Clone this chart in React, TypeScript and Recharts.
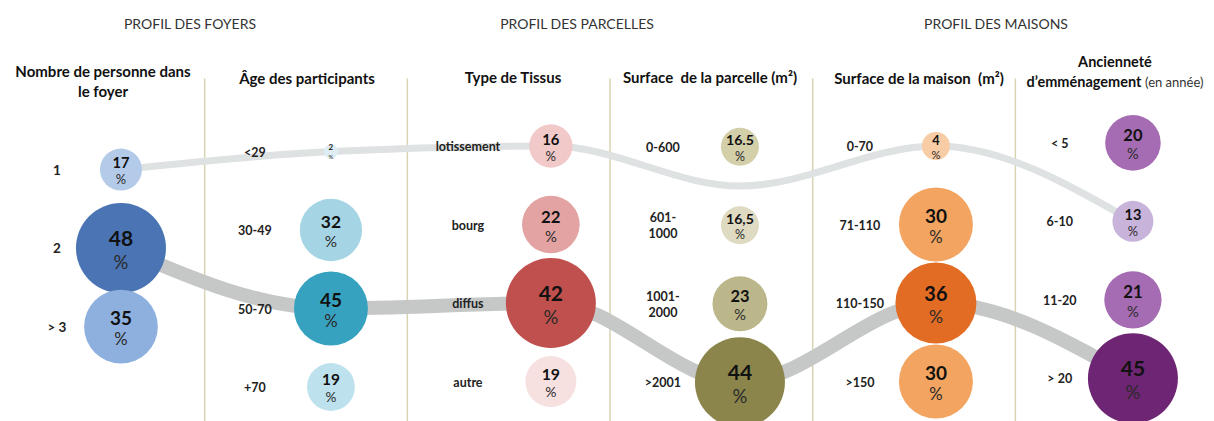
import React from "react";
import {
  ComposedChart,
  Line,
  ReferenceLine,
  Scatter,
  XAxis,
  YAxis,
  ZAxis,
} from "recharts";

// --- data ---
const foyerCats = ["1", "2", "> 3"];
const foyerVals = [17, 48, 35];

const ageCats = ["<29", "30-49", "50-70", "+70"];
const ageVals = [2, 32, 45, 19];

const tissuCats = ["lotissement", "bourg", "diffus", "autre"];
const tissuVals = [16, 22, 42, 19];

const parcelleCats = ["0-600", "601-\n1000", "1001-\n2000", ">2001"];
const parcelleVals = [16.5, 16.5, 23, 44];
const parcelleText = ["16.5", "16,5", "23", "44"];

const maisonCats = ["0-70", "71-110", "110-150", ">150"];
const maisonVals = [4, 30, 36, 30];

const ancienCats = ["< 5", "6-10", "11-20", "> 20"];
const ancienVals = [20, 13, 21, 45];

// row (0 = top) the two grey trails pass through in each column
const lightTrail = [0, 0, 0, 0.5, 0, 1];
const heavyTrail = [1, 2, 2, 3, 2, 3];

// --- layout / style ---
const FONT = "Lato, 'Open Sans', sans-serif";
const W = 1214;
const H = 421;

const cols = [
  {
    cats: foyerCats, vals: foyerVals, text: foyerVals.map(String),
    colors: ["#b3cae8", "#4a74b4", "#8eb0de"],
    labelX: 0.271, bubbleX: 0.587, shift: 0.3, r: [21, 45], labelSize: 13.5,
  },
  {
    cats: ageCats, vals: ageVals, text: ageVals.map(String),
    colors: ["#deeef4", "#a5d5e5", "#37a2bf", "#bde2ee"],
    labelX: 0.248, bubbleX: 0.623, shift: 0.07, r: [7, 37], labelSize: 12.5,
  },
  {
    cats: tissuCats, vals: tissuVals, text: tissuVals.map(String),
    colors: ["#f1c9c9", "#e2a3a2", "#c0504d", "#f6e0e0"],
    labelX: 0.299, bubbleX: 0.708, shift: 0, r: [21.7, 45], labelSize: 12.5,
  },
  {
    cats: parcelleCats, vals: parcelleVals, text: parcelleText,
    colors: ["#d2cfa9", "#dedbc2", "#bcb78b", "#8b854b"],
    labelX: 0.261, bubbleX: 0.641, shift: 0.01, r: [19, 45], labelSize: 12.5,
  },
  {
    cats: maisonCats, vals: maisonVals, text: maisonVals.map(String),
    colors: ["#f8cca5", "#f3a460", "#e36c25", "#f3a460"],
    labelX: 0.233, bubbleX: 0.608, shift: 0, r: [14, 40.5], labelSize: 12.5,
  },
  {
    cats: ancienCats, vals: ancienVals, text: ancienVals.map(String),
    colors: ["#a66cb3", "#c8b3da", "#a66cb3", "#6e2573"],
    labelX: 0.219, bubbleX: 0.58, shift: -0.04, r: [20.5, 45], labelSize: 12.5,
  },
];

const bubbleData = cols.map((c, i) =>
  c.vals.map((v, row) => ({
    x: i + c.bubbleX,
    y: row + c.shift,
    v,
    text: c.text[row],
    fill: c.colors[row],
  }))
);

const labelData = cols.flatMap((c, i) =>
  c.cats.map((label, row) => ({
    x: i + c.labelX,
    y: row + c.shift,
    label,
    size: c.labelSize,
  }))
);

const lightData = lightTrail.map((row, i) => ({ x: i + cols[i].bubbleX, y: row + cols[i].shift }));
const heavyData = heavyTrail.map((row, i) => ({ x: i + cols[i].bubbleX, y: row + cols[i].shift }));

const Bubble = (props: any) => {
  const { cx, cy, width, payload } = props;
  const r = width / 2;
  const fn = r < 10 ? 8 : Math.min(21, 9 + 0.27 * r);
  const pn = r < 10 ? 6 : fn * 0.88;
  return (
    <g>
      <circle cx={cx} cy={cy} r={r} fill={payload.fill} />
      <text
        x={cx}
        y={cy - (r < 10 ? 5 : 0.5 * fn)}
        textAnchor="middle"
        dominantBaseline="central"
        fontFamily={FONT}
        fontWeight="bold"
        fontSize={fn}
        fill="#111"
      >
        {payload.text}
      </text>
      <text
        x={cx}
        y={cy + (r < 10 ? 5 : 0.66 * fn)}
        textAnchor="middle"
        dominantBaseline="central"
        fontFamily={FONT}
        fontSize={pn}
        fill="#2a2a2a"
      >
        %
      </text>
    </g>
  );
};

const RowLabel = (props: any) => {
  const { cx, cy, payload } = props;
  const lines: string[] = payload.label.split("\n");
  const lh = 16;
  return (
    <text
      textAnchor="middle"
      dominantBaseline="central"
      fontFamily={FONT}
      fontWeight="bold"
      fontSize={payload.size}
      fill="#222"
    >
      {lines.map((l, k) => (
        <tspan key={k} x={cx} y={cy + (k - (lines.length - 1) / 2) * lh}>
          {l}
        </tspan>
      ))}
    </text>
  );
};

const headers = [
  { text: "PROFIL DES FOYERS", x: 190 },
  { text: "PROFIL DES PARCELLES", x: 577 },
  { text: "PROFIL DES MAISONS", x: 996 },
];

const titles = [
  { lines: ["Nombre de personne dans", "le foyer"], x: 103, y: 61 },
  { lines: ["Âge des participants"], x: 307, y: 68 },
  { lines: ["Type de Tissus"], x: 513, y: 67 },
  { lines: ["Surface  de la parcelle (m²)"], x: 710, y: 67 },
  { lines: ["Surface de la maison  (m²)"], x: 919, y: 68 },
];

export default function App() {
  return (
    <div
      style={{
        position: "absolute",
        left: 0,
        top: 0,
        width: W,
        height: H,
        background: "#fff",
        fontFamily: FONT,
      }}
    >
      <ComposedChart width={W} height={H} margin={{ top: 0, right: 0, bottom: 0, left: 2 }}>
        <XAxis dataKey="x" type="number" domain={[0, 5.98]} allowDataOverflow hide />
        <YAxis dataKey="y" type="number" domain={[-1.86, 3.503]} allowDataOverflow reversed hide />
        {cols.map((c, i) => (
          <ZAxis
            key={i}
            zAxisId={i}
            dataKey="v"
            type="number"
            domain={[Math.min(...c.vals), Math.max(...c.vals)]}
            range={[Math.PI * c.r[0] * c.r[0], Math.PI * c.r[1] * c.r[1]]}
          />
        ))}
        <ZAxis zAxisId="lab" dataKey="v" range={[10, 10]} />
        {[1, 2, 3, 4, 5].map((x) => (
          <ReferenceLine
            key={x}
            segment={[
              { x, y: -0.86 },
              { x, y: 3.503 },
            ]}
            stroke="#d8d4b3"
            strokeWidth={1.5}
            ifOverflow="visible"
          />
        ))}
        <Line
          data={lightData}
          dataKey="y"
          type="monotone"
          stroke="#dfe2e2"
          strokeWidth={7}
          dot={false}
          isAnimationActive={false}
        />
        <Line
          data={heavyData}
          dataKey="y"
          type="monotone"
          stroke="#c6c8c8"
          strokeWidth={14}
          dot={false}
          isAnimationActive={false}
        />
        {bubbleData.map((d, i) => (
          <Scatter
            key={i}
            data={d}
            zAxisId={i}
            shape={Bubble}
            isAnimationActive={false}
          />
        ))}
        <Scatter data={labelData} zAxisId="lab" shape={RowLabel} isAnimationActive={false} />
      </ComposedChart>

      {headers.map((h) => (
        <div
          key={h.text}
          style={{
            position: "absolute",
            left: h.x - 150,
            top: 15,
            width: 300,
            textAlign: "center",
            fontSize: 14,
            lineHeight: "18px",
            color: "#333",
          }}
        >
          {h.text}
        </div>
      ))}
      {titles.map((t) => (
        <div
          key={t.lines[0]}
          style={{
            position: "absolute",
            left: t.x - 120,
            top: t.y,
            width: 240,
            textAlign: "center",
            fontSize: 15,
            fontWeight: "bold",
            lineHeight: "20px",
            color: "#111",
            whiteSpace: "pre",
          }}
        >
          {t.lines.map((l) => (
            <div key={l}>{l}</div>
          ))}
        </div>
      ))}
      <div
        style={{
          position: "absolute",
          left: 1000,
          top: 52,
          width: 230,
          textAlign: "center",
          fontSize: 14.5,
          lineHeight: "20px",
          color: "#111",
        }}
      >
        <div style={{ fontWeight: "bold" }}>Ancienneté</div>
        <div style={{ whiteSpace: "nowrap" }}>
          <b>d’emménagement</b> <span style={{ fontSize: 13, color: "#333" }}>(en année)</span>
        </div>
      </div>
    </div>
  );
}
